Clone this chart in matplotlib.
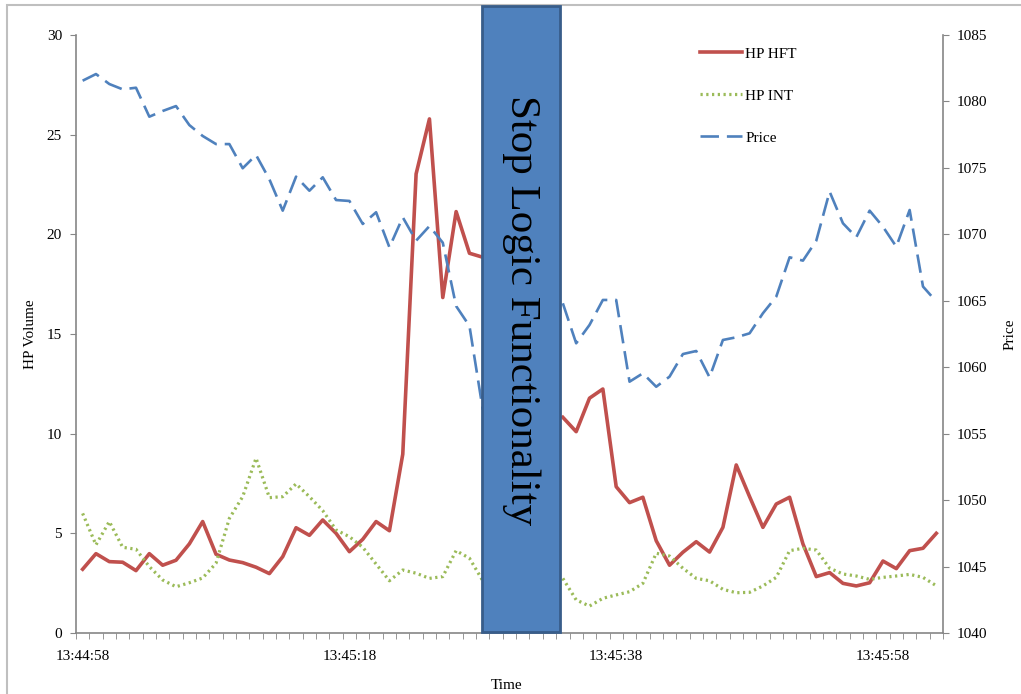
import matplotlib
matplotlib.use('Agg')
import matplotlib.pyplot as plt
import matplotlib.transforms as mtransforms
from matplotlib.patches import Rectangle
import numpy as np

plt.rcParams['font.family'] = ['Liberation Serif', 'DejaVu Serif']

# one category per second, 13:44:58 .. 13:46:02
time_labels = ['13:44:58', '13:45:18', '13:45:38', '13:45:58']
nan = np.nan

# values hidden behind the "Stop Logic" box (idx 31-35) are left as nan
hp_hft = [3.2, 3.98, 3.58, 3.55, 3.13, 3.98, 3.4, 3.65, 4.47, 5.59,
          3.95, 3.66, 3.53, 3.3, 2.98, 3.83, 5.28, 4.9, 5.67, 5.0,
          4.08, 4.7, 5.59, 5.13, 8.97, 23.03, 25.79, 16.83, 21.14, 19.05,
          18.85, nan, nan, nan, nan, nan, 10.82, 10.1, 11.78, 12.24,
          7.34, 6.54, 6.81, 4.63, 3.4, 4.05, 4.58, 4.06, 5.3, 8.43,
          6.84, 5.3, 6.47, 6.81, 4.47, 2.83, 3.03, 2.49, 2.36, 2.52,
          3.61, 3.23, 4.13, 4.25, 5.0]

hp_int = [6.0, 4.42, 5.59, 4.3, 4.2, 3.33, 2.66, 2.32, 2.52, 2.76,
          3.5, 5.75, 6.84, 8.77, 6.79, 6.84, 7.48, 6.84, 6.14, 5.17,
          4.83, 4.3, 3.46, 2.62, 3.16, 3.0, 2.74, 2.83, 4.13, 3.75,
          2.62, nan, nan, nan, nan, nan, 2.74, 1.66, 1.35, 1.74,
          1.91, 2.07, 2.49, 4.0, 3.86, 3.25, 2.74, 2.62, 2.19, 2.02,
          2.04, 2.36, 2.79, 4.13, 4.25, 4.16, 3.25, 2.96, 2.86, 2.69,
          2.79, 2.86, 2.94, 2.79, 2.37]

price = [1081.56, 1082.06, 1081.31, 1080.91, 1081.03, 1078.85, 1079.28, 1079.65, 1078.22, 1077.4,
         1076.79, 1076.79, 1074.97, 1075.97, 1074.14, 1071.78, 1074.34, 1073.28, 1074.29, 1072.58,
         1072.51, 1070.78, 1071.66, 1069.02, 1071.28, 1069.52, 1070.62, 1069.37, 1064.6, 1063.1,
         1056.8, nan, nan, nan, nan, nan, 1064.81, 1061.8, 1063.18, 1065.06,
         1065.06, 1058.91, 1059.54, 1058.53, 1059.29, 1060.99, 1061.22, 1059.24, 1062.05, 1062.25,
         1062.55, 1064.06, 1065.31, 1068.27, 1068.02, 1069.52, 1073.21, 1070.83, 1069.78, 1071.78,
         1070.57, 1069.07, 1071.83, 1066.07, 1064.94]

x = np.arange(len(hp_hft))
axis_grey = '#868686'
fs = 11

fig = plt.figure(figsize=(10.21, 6.94), dpi=100)
ax = fig.add_axes([0.0744, 0.0879, 0.8492, 0.8617])
ax2 = ax.twinx()

l1, = ax.plot(x, hp_hft, color='#C0504D', lw=2.6, label='HP HFT', zorder=3)
l2, = ax.plot(x, hp_int, color='#9BBB59', lw=2.3, ls=(0, (0.7, 1.1)), label='HP INT', zorder=3)
l3, = ax2.plot(x, price, color='#4F81BD', lw=1.9, ls=(0, (7, 3)), label='Price', zorder=3)

ax.set_xlim(-0.5, len(x) - 0.5)
ax.set_ylim(0, 30)
ax2.set_ylim(1040, 1085)
ax.set_yticks(np.arange(0, 31, 5))
ax2.set_yticks(np.arange(1040, 1086, 5))

ax.set_xticks([0, 20, 40, 60])
ax.set_xticklabels(time_labels)
ax.set_xticks(np.arange(-0.5, len(x), 1), minor=True)
ax.tick_params(axis='x', which='major', length=0, pad=12, labelsize=fs)
ax.tick_params(axis='x', which='minor', length=4, direction='out', color=axis_grey)
ax.tick_params(axis='y', length=4, color=axis_grey, labelsize=fs, pad=6)
ax2.tick_params(axis='y', length=4, color=axis_grey, labelsize=fs, pad=6)

for a in (ax, ax2):
    a.spines['top'].set_visible(False)
    for s in ('left', 'right', 'bottom'):
        a.spines[s].set_color(axis_grey)
        a.spines[s].set_linewidth(1.2)
ax.spines['right'].set_visible(False)
ax2.spines['left'].set_visible(False)
ax2.spines['bottom'].set_visible(False)

ax.set_xlabel('Time', fontsize=fs)
ax.set_ylabel('HP Volume', fontsize=fs)
ax2.set_ylabel('Price', fontsize=fs)
ax.xaxis.set_label_coords(0.4971, -0.077)
ax.yaxis.set_label_coords(-0.045, 0.5)
ax2.yaxis.set_label_coords(1.070, 0.5)

# the "Stop Logic" box, drawn over the lines
ax2.set_zorder(ax.get_zorder() + 1)
ax2.patch.set_visible(False)
trans = mtransforms.blended_transform_factory(ax2.transData, ax2.transAxes)
box = Rectangle((29.93, 0.002), 5.85, 1.046, transform=trans, clip_on=False,
                facecolor='#4F81BD', edgecolor='#385D8A', lw=2, zorder=5)
ax2.add_patch(box)
ax2.text(32.86, 0.54, 'Stop Logic Functionality', transform=trans, rotation=-90,
         ha='center', va='center', fontsize=31, color='black', zorder=6)

leg = fig.legend(handles=[l1, l2, l3], loc='upper left',
                 bbox_to_anchor=(700 / 1021, 1 - 47 / 694), frameon=False,
                 fontsize=fs, handlelength=2.75, handletextpad=0.2,
                 labelspacing=1.85, borderpad=0, borderaxespad=0)

# outer chart border (light grey, top and left visible)
fig.add_artist(Rectangle((7 / 1021, -0.1), 1.2, 1.1 - 5 / 694, transform=fig.transFigure,
                         fill=False, edgecolor='#BFBFBF', lw=1.5, clip_on=False))

fig.savefig('out.png', dpi=100)
